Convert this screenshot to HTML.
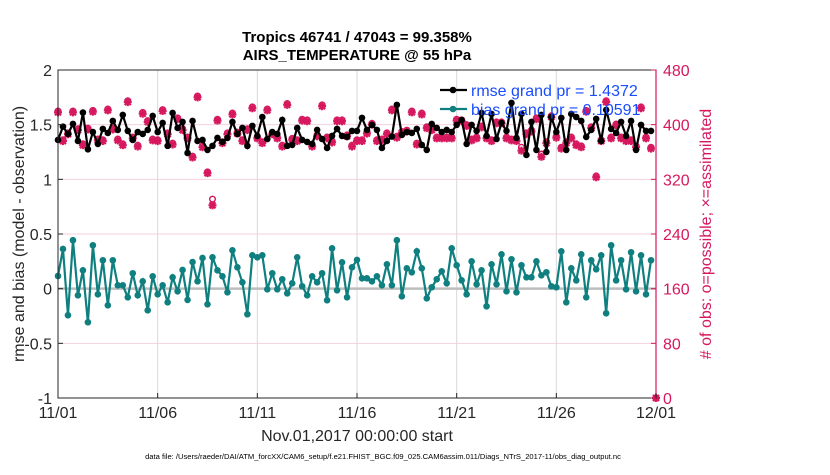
<!DOCTYPE html>
<html><head><meta charset="utf-8"><style>
body{margin:0;background:#fff;width:830px;height:470px;overflow:hidden;font-family:"Liberation Sans",Arial,sans-serif}
</style></head><body>
<svg id="chart" width="830" height="470" xmlns="http://www.w3.org/2000/svg" font-family="Liberation Sans, Arial, sans-serif"></svg>
<script>
const xTickLabels=["11/01","11/06","11/11","11/16","11/21","11/26","12/01"];
const yLeftTicks=[-1,-0.5,0,0.5,1,1.5,2];
const yLeftLabels=["-1","-0.5","0","0.5","1","1.5","2"];
const yRightTicks=[0,80,160,240,320,400,480];
const rmse=[1.360,1.482,1.415,1.507,1.351,1.611,1.275,1.433,1.324,1.461,1.424,1.534,1.452,1.589,1.443,1.360,1.433,1.415,1.452,1.580,1.433,1.516,1.306,1.607,1.470,1.525,1.241,1.534,1.351,1.360,1.269,1.306,1.379,1.342,1.379,1.525,1.415,1.470,1.306,1.489,1.397,1.570,1.369,1.433,1.415,1.543,1.306,1.315,1.470,1.360,1.342,1.324,1.452,1.369,1.287,1.397,1.461,1.397,1.388,1.443,
1.443,1.562,1.452,1.498,1.452,1.287,1.351,1.391,1.681,1.406,1.433,1.424,1.461,1.315,1.269,1.507,1.470,1.433,1.452,1.433,1.498,1.543,1.324,1.498,1.443,1.607,1.397,1.598,1.369,1.516,1.443,1.699,1.379,1.598,1.223,1.525,1.269,1.589,1.251,1.570,1.433,1.562,1.269,1.598,1.570,1.534,1.388,1.452,1.553,1.351,1.635,1.461,1.424,1.525,1.397,1.534,1.269,1.498,1.443,1.443];
const bias=[0.116,0.363,-0.243,0.443,-0.061,0.168,-0.307,0.397,-0.052,0.260,-0.152,0.260,0.031,0.031,-0.079,0.141,-0.061,0.067,-0.198,0.113,-0.052,0.031,-0.125,0.104,-0.024,0.171,-0.103,0.244,0.067,0.281,-0.143,0.287,0.168,0.113,-0.033,0.351,0.195,0.058,-0.234,0.305,0.287,0.305,-0.006,0.141,-0.006,0.086,-0.043,0.049,0.287,0.022,-0.061,0.113,0.058,0.141,-0.106,0.369,-0.015,0.241,-0.079,0.195,
0.263,0.095,0.095,0.067,0.113,0.031,0.223,0.031,0.443,-0.070,0.186,0.150,0.342,0.186,-0.088,0.013,0.086,0.159,0.049,0.369,0.214,0.076,-0.052,0.250,0.040,0.168,-0.161,0.223,0.040,0.314,-0.024,0.269,-0.033,0.214,0.104,0.104,0.250,0.122,0.150,0.022,0.013,0.342,-0.125,0.186,0.076,0.314,-0.079,0.260,0.177,0.305,-0.225,0.397,0.076,0.260,-0.006,0.333,-0.024,0.305,-0.052,0.260];
const obsPossible=[420,378,388,420,394,372,395,421,379,378,423,395,379,372,435,382,370,418,406,379,378,422,388,373,410,394,382,354,442,369,331,291,408,375,388,417,389,378,394,426,382,375,423,388,382,370,431,380,378,408,407,370,385,429,382,376,407,407,385,370,
378,378,389,402,378,379,388,423,383,390,392,420,373,417,397,394,382,382,382,382,408,407,400,379,382,398,382,378,404,404,382,379,378,367,388,392,410,357,375,413,383,367,375,382,372,369,421,397,325,378,435,382,401,382,378,378,369,426,382,367,0];
const obsAssim=[418,376,386,418,392,370,393,419,377,376,421,393,377,370,433,380,368,416,404,377,376,420,386,371,408,392,380,352,440,367,329,282,406,373,386,415,387,376,392,424,380,373,421,386,380,368,429,378,376,406,405,368,383,427,380,374,405,405,383,368,
376,376,387,400,376,377,386,421,381,388,390,418,371,415,395,392,380,380,380,380,406,405,398,377,380,396,380,376,402,402,380,377,376,362,386,390,408,353,373,411,381,365,373,380,370,367,419,395,323,376,433,380,399,380,376,376,367,424,380,365,0];

const NS="http://www.w3.org/2000/svg", svg=document.getElementById('chart');
const L=58,R=656,T=70,B=398;
const xOf=i=>L+(R-L)*(i/4)/30;
const xDay=d=>L+(R-L)*d/30;
const yL=v=>B-(v+1)/3*(B-T);
const yR=v=>B-v/480*(B-T);
function mk(tag,a,p){const e=document.createElementNS(NS,tag);for(const k in a)e.setAttribute(k,a[k]);(p||svg).appendChild(e);return e;}
function txt(s,a){const e=mk('text',a);e.textContent=s;return e;}

yLeftTicks.forEach((v,i)=>{if(i>0&&i<6){const g=mk('line',{x1:L,x2:R,y1:yL(v),y2:yL(v),stroke:'#f5cfe0','stroke-width':1});

}});
xTickLabels.forEach((s,i)=>{if(i>0&&i<6){const g=mk('line',{x1:xDay(i*5),x2:xDay(i*5),y1:T,y2:B,stroke:'#d9d9d9','stroke-width':1});

}});
const z=mk('line',{x1:L,x2:R,y1:yL(0),y2:yL(0),stroke:'#bdbdbd','stroke-width':2.5});



const obsG=mk('g',{});


obsAssim.forEach((v,i)=>{const x=xOf(i),y=yR(v);const g=mk('g',{stroke:'#d6185e','stroke-width':2.2},obsG);


mk('line',{x1:x-4,x2:x+4,y1:y,y2:y},g);mk('line',{x1:x,x2:x,y1:y-4,y2:y+4},g);
mk('line',{x1:x-3,x2:x+3,y1:y-3,y2:y+3},g);mk('line',{x1:x-3,x2:x+3,y1:y+3,y2:y-3},g);});
obsPossible.forEach((v,i)=>{const c=mk('circle',{cx:xOf(i),cy:yR(v),r:2.8,fill:'none',stroke:'#d6185e','stroke-width':1.4},obsG);

});

function series(arr,color,name){const g=mk('g',{});


mk('polyline',{points:arr.map((v,i)=>xOf(i)+','+yL(v)).join(' '),fill:'none',stroke:color,'stroke-width':2.2},g);
arr.forEach((v,i)=>{const c=mk('circle',{cx:xOf(i),cy:yL(v),r:3.3,fill:color},g);

});}
series(rmse,'#000','rmse-series');
series(bias,'#0f7f7f','bias-series');

const ax=mk('rect',{x:L,y:T,width:R-L,height:B-T,fill:'none',stroke:'#262626','stroke-width':1});


const ra=mk('line',{x1:R,x2:R,y1:T,y2:B,stroke:'#d6185e','stroke-width':1.2});


yLeftTicks.forEach((v,i)=>{mk('line',{x1:L,x2:L+5,y1:yL(v),y2:yL(v),stroke:'#262626'});
const t=txt(yLeftLabels[i],{x:L-6,y:yL(v)+6,'text-anchor':'end','font-size':16,fill:'#262626'});

});
yRightTicks.forEach(v=>{mk('line',{x1:R-5,x2:R,y1:yR(v),y2:yR(v),stroke:'#d6185e'});
const t=txt(String(v),{x:R+7,y:yR(v)+6,'font-size':16,fill:'#d6185e'});

});
xTickLabels.forEach((s,i)=>{mk('line',{x1:xDay(i*5),x2:xDay(i*5),y1:B,y2:B-5,stroke:'#262626'});
const t=txt(s,{x:xDay(i*5),y:B+20,'text-anchor':'middle','font-size':16,fill:'#262626'});

});
</script>
<svg width="830" height="470" style="position:absolute;left:0;top:0" font-family="Liberation Sans, Arial, sans-serif">
<text x="357" y="42" text-anchor="middle" font-size="15" font-weight="bold" fill="#000">Tropics 46741 / 47043 = 99.358%</text>
<text x="357" y="60" text-anchor="middle" font-size="15" font-weight="bold" fill="#000">AIRS_TEMPERATURE @ 55 hPa</text>
<text x="357" y="441" text-anchor="middle" font-size="16" fill="#262626">Nov.01,2017 00:00:00 start</text>
<text transform="translate(24,234) rotate(-90)" text-anchor="middle" font-size="16" fill="#262626">rmse and bias (model - observation)</text>
<text transform="translate(711,234) rotate(-90)" text-anchor="middle" font-size="16" fill="#d6185e"># of obs: o=possible; ×=assimilated</text>
<g>
<line x1="440" x2="467" y1="90" y2="90" stroke="#000" stroke-width="2.2"/><circle cx="453" cy="90" r="3.3" fill="#000"/>
<text x="471" y="96" font-size="16" fill="#1a4cff">rmse grand pr = 1.4372</text>
<line x1="440" x2="467" y1="109" y2="109" stroke="#0f7f7f" stroke-width="2.2"/><circle cx="453" cy="109" r="3.3" fill="#0f7f7f"/>
<text x="471" y="115" font-size="16" fill="#1a4cff">bias grand pr = 0.10591</text>
</g>
<text x="383" y="459" text-anchor="middle" font-size="7.6" fill="#000">data file: /Users/raeder/DAI/ATM_forcXX/CAM6_setup/f.e21.FHIST_BGC.f09_025.CAM6assim.011/Diags_NTrS_2017-11/obs_diag_output.nc</text>
</svg>
</body></html>
